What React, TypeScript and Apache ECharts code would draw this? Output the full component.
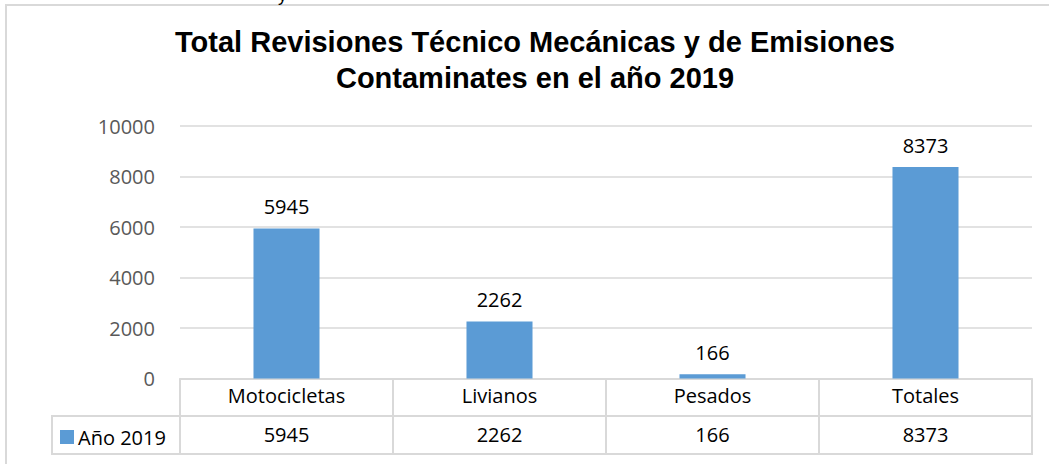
import React, { useEffect, useRef } from "react";
import * as echarts from "echarts";

const categories = ["Motocicletas", "Livianos", "Pesados", "Totales"];
const values = [5945, 2262, 166, 8373];
const seriesName = "Año 2019";
const yTicks = { min: 0, max: 10000, interval: 2000 };
const titleText = "Total Revisiones Técnico Mecánicas y de Emisiones\nContaminates en el año 2019";

const FONT = "Open Sans";
const FS = 20;
const GRID_LEFT = 180;
const GRID_RIGHT_X = 1032;
const AXIS_Y = 378.5;
const ROW_MID = 416;
const ROW_BOTTOM = 454;
const TABLE_LEFT = 52;
const LINE_COLOR = "#D9D9D9";

export default function App() {
  const ref = useRef<HTMLDivElement>(null);
  useEffect(() => {
    if (!ref.current) return;
    const chart = echarts.init(ref.current, undefined, { renderer: "svg" });
    chart.setOption({
      animation: false,
      backgroundColor: "#ffffff",
      title: {
        text: titleText,
        left: 530,
        textAlign: "center",
        top: 19,
        textStyle: {
          fontFamily: "Liberation Sans",
          fontWeight: "bold",
          fontSize: 29,
          lineHeight: 36,
          color: "#000000",
        },
      },
      legend: {
        data: [seriesName],
        left: 60,
        top: 427,
        icon: "rect",
        itemWidth: 14,
        itemHeight: 14,
        itemGap: 6,
        padding: 0,
        textStyle: { fontFamily: FONT, fontSize: FS, color: "#000000", padding: [0, 0, 0, -1] },
        selectedMode: false,
      },
      grid: {
        left: GRID_LEFT,
        right: 1049 - GRID_RIGHT_X,
        top: 126,
        bottom: 464 - AXIS_Y,
      },
      xAxis: [
        {
          type: "category",
          data: categories,
          position: "bottom",
          axisLine: { show: true, lineStyle: { color: LINE_COLOR, width: 2 } },
          axisTick: {
            show: true,
            length: ROW_BOTTOM - AXIS_Y,
            lineStyle: { color: LINE_COLOR, width: 2 },
          },
          axisLabel: { fontFamily: FONT, fontSize: FS, color: "#000000", margin: 7 },
        },
        {
          type: "category",
          data: values.map((v) => String(v)),
          position: "bottom",
          offset: ROW_MID - AXIS_Y,
          axisLine: { show: false },
          axisTick: { show: false },
          axisLabel: { fontFamily: FONT, fontSize: FS, color: "#000000", margin: 8 },
        },
      ],
      yAxis: {
        type: "value",
        min: yTicks.min,
        max: yTicks.max,
        interval: yTicks.interval,
        axisLine: { show: false },
        axisTick: { show: false },
        axisLabel: {
          fontFamily: FONT,
          fontSize: FS,
          color: "#595959",
          margin: 25,
          formatter: (v: number) => String(v),
        },
        splitLine: { lineStyle: { color: LINE_COLOR, width: 1.5 } },
      },
      series: [
        {
          name: seriesName,
          type: "bar",
          xAxisIndex: 0,
          data: values,
          barWidth: "31%",
          itemStyle: { color: "#5B9BD5" },
          label: {
            show: true,
            position: "top",
            distance: 12,
            fontFamily: FONT,
            fontSize: FS,
            color: "#000000",
          },
        },
      ],
      graphic: [
        {
          type: "rect",
          shape: { x: 6, y: 5, width: 1200, height: 600 },
          style: { fill: "none", stroke: LINE_COLOR, lineWidth: 2 },
          silent: true,
        },
        {
          type: "text",
          x: 278,
          y: -14,
          style: { text: "y", fontFamily: "Liberation Sans", fontSize: 18, fill: "#000000" },
          silent: true,
        },
        {
          type: "line",
          shape: { x1: TABLE_LEFT, y1: ROW_MID, x2: GRID_RIGHT_X + 1, y2: ROW_MID },
          style: { stroke: LINE_COLOR, lineWidth: 2 },
          silent: true,
        },
        {
          type: "line",
          shape: { x1: TABLE_LEFT, y1: ROW_BOTTOM, x2: GRID_RIGHT_X + 1, y2: ROW_BOTTOM },
          style: { stroke: LINE_COLOR, lineWidth: 2 },
          silent: true,
        },
        {
          type: "line",
          shape: { x1: TABLE_LEFT, y1: ROW_MID - 1, x2: TABLE_LEFT, y2: ROW_BOTTOM + 1 },
          style: { stroke: LINE_COLOR, lineWidth: 2 },
          silent: true,
        },
      ],
    });
    return () => chart.dispose();
  }, []);
  return (
    <div
      ref={ref}
      style={{ position: "fixed", left: 0, top: 0, width: 1049, height: 464 }}
    />
  );
}
